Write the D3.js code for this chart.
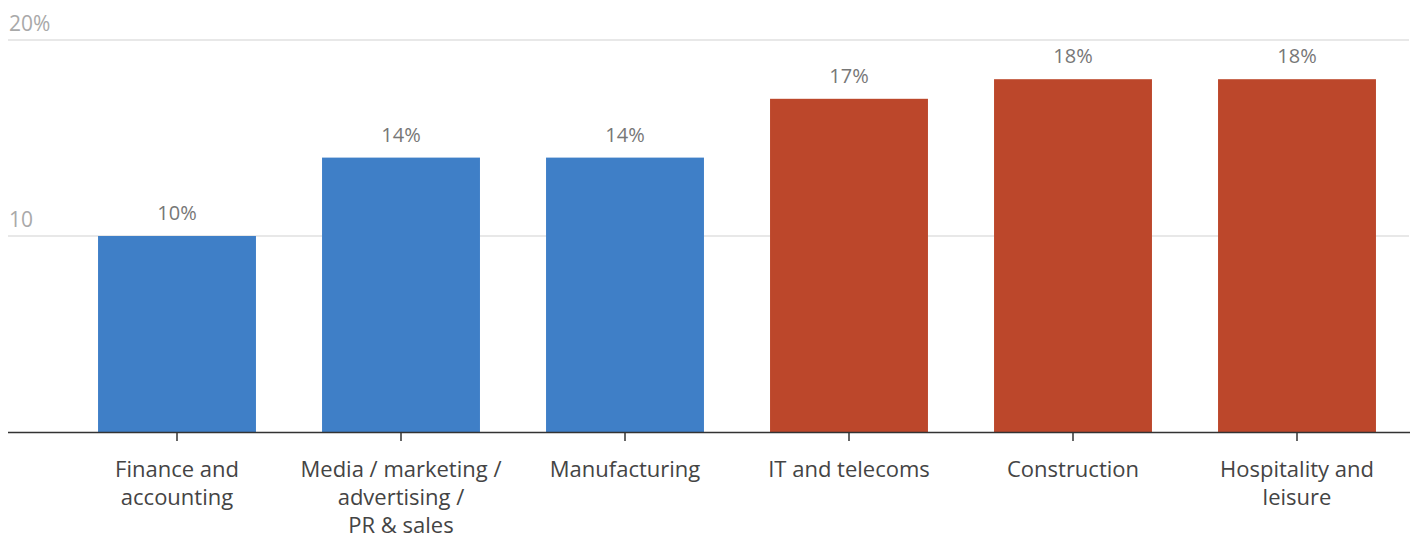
<!DOCTYPE html>
<html>
<head>
<meta charset="utf-8">
<script src="https://cdn.jsdelivr.net/npm/d3@7"></script>
<style>
  body { margin: 0; background: #fff; }
  text { font-family: "Open Sans", Lato, sans-serif; }
</style>
</head>
<body>
<div id="chart"></div>
<script>
// data
const categories = ["Finance and accounting", "Media / marketing / advertising / PR & sales", "Manufacturing", "IT and telecoms", "Construction", "Hospitality and leisure"];
const labelLines = [["Finance and", "accounting"], ["Media / marketing /", "advertising /", "PR & sales"], ["Manufacturing"], ["IT and telecoms"], ["Construction"], ["Hospitality and", "leisure"]];
const values = [10, 14, 14, 17, 18, 18];
const groups = ["low", "low", "low", "high", "high", "high"];
const yTicks = [10, 20];
const yTickLabels = ["10", "20%"];

const width = 1413, height = 539;
const margin = { top: 40, right: 3, bottom: 107, left: 8 };

const svg = d3.select("#chart").append("svg")
    .attr("width", width)
    .attr("height", height);

const x = d3.scaleBand()
    .domain(categories)
    .range([65, 1409])
    .paddingInner(0.295)
    .paddingOuter(0.1475);

const y = d3.scaleLinear()
    .domain([0, 20])
    .range([height - margin.bottom, margin.top]);

const color = d3.scaleOrdinal().domain(["low", "high"]).range(["#3f7fc7", "#bc472b"]);

// gridlines
svg.append("g").selectAll("line")
    .data(yTicks)
    .join("line")
    .attr("x1", margin.left)
    .attr("x2", width - 4)
    .attr("y1", d => y(d))
    .attr("y2", d => y(d))
    .attr("stroke", "#e8e8e8")
    .attr("stroke-width", 2);

svg.append("g").selectAll("text")
    .data(yTicks)
    .join("text")
    .attr("x", margin.left + 1)
    .attr("y", d => y(d) - 9)
    .attr("fill", "#a9a9a9")
    .attr("font-size", 21)
    .text((d, i) => yTickLabels[i]);

// bars
svg.append("g").selectAll("rect")
    .data(values)
    .join("rect")
    .attr("x", (d, i) => x(categories[i]))
    .attr("y", d => y(d))
    .attr("width", x.bandwidth())
    .attr("height", d => y(0) - y(d))
    .attr("fill", (d, i) => color(groups[i]));

// value labels
svg.append("g").selectAll("text")
    .data(values)
    .join("text")
    .attr("x", (d, i) => x(categories[i]) + x.bandwidth() / 2)
    .attr("y", d => y(d) - 16)
    .attr("text-anchor", "middle")
    .attr("fill", "#777")
    .attr("font-size", 20)
    .text(d => d + "%");

// x axis
const xAxis = svg.append("g")
    .attr("transform", `translate(0,${y(0)})`)
    .call(d3.axisBottom(x).tickSize(9).tickFormat(""));
xAxis.select(".domain")
    .attr("d", `M${margin.left},0.5H${width - 3}`)
    .attr("stroke", "#333")
    .attr("stroke-width", 1.5);
xAxis.selectAll(".tick line").attr("stroke", "#333").attr("stroke-width", 1.5);

xAxis.selectAll(".tick").each(function (d, i) {
    const t = d3.select(this).append("text")
        .attr("fill", "#444")
        .attr("font-size", 22)
        .attr("text-anchor", "middle");
    labelLines[i].forEach((line, j) => {
        t.append("tspan")
            .attr("x", 0)
            .attr("y", 45 + j * 28)
            .text(line);
    });
});
xAxis.selectAll(".tick text").attr("font-family", "'Open Sans', Lato, sans-serif");
</script>
</body>
</html>
